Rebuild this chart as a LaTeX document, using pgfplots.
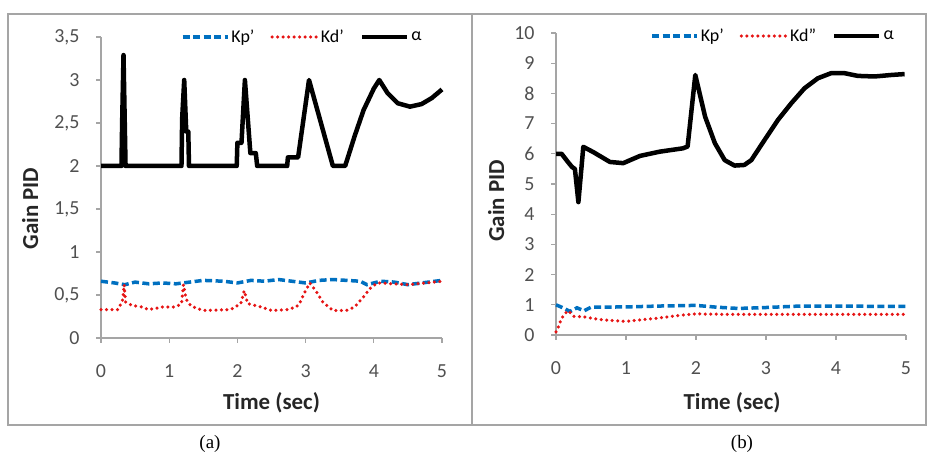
\documentclass[border=0pt]{standalone}
\usepackage{fontspec}
\setmainfont{Carlito}
\newfontfamily\capfont{Liberation Serif}
\usepackage{pgfplots}
\pgfplotsset{compat=1.18}

\definecolor{kpblue}{RGB}{0,112,192}
\definecolor{kdred}{RGB}{230,20,20}
\definecolor{axgray}{RGB}{165,165,165}
\definecolor{txtgray}{RGB}{80,80,80}

\pgfplotsset{
  panel/.style={
    scale only axis,
    xmin=0, xmax=5, ymin=0,
    axis lines=left,
    axis line style={axgray, line width=1.3bp, -},
    tick style={axgray, line width=1.3bp},
    tick align=outside,
    major tick length=5bp,
    xtick={0,...,5},
    ticklabel style={font=\fontsize{20}{21}\selectfont, text=txtgray},
    yticklabel style={xshift=-13bp},
    xticklabel style={yshift=-18bp},
    /pgf/number format/assume math mode=true,
    /pgf/number format/use comma,
    xlabel={Time (sec)}, ylabel={Gain PID},
    label style={font=\bfseries\fontsize{23}{25}\selectfont, text=black!85},
    legend columns=3,
    legend style={draw=none, fill=none, font=\fontsize{18}{20}\selectfont,
      /tikz/every even column/.append style={column sep=14bp}},
    legend image code/.code={\draw[##1] (0bp,0bp) -- (45bp,0bp);},
    clip=false,
  },
  kp/.style={kpblue, line width=3.5bp, dash pattern=on 7bp off 3.5bp},
  kd/.style={kdred, line width=3.5bp, line cap=round, dash pattern=on 0bp off 5.5bp},
  al/.style={black, line width=4.5bp, line join=round},
}

\begin{document}
\begin{tikzpicture}
\useasboundingbox (0,0) rectangle (928bp,454bp);
\draw[axgray, line width=1.5bp] (8bp,29bp) rectangle (926bp,440bp);
\draw[axgray, line width=1.5bp] (472bp,29bp) -- (472bp,440bp);

% panel (a)
\begin{axis}[panel,
  at={(101bp,116bp)}, anchor=south west, width=341bp, height=301bp,
  ymax=3.5, ytick={0,0.5,1,1.5,2,2.5,3,3.5},
  ylabel style={at={(axis description cs:-0.208,0.43)}, anchor=center},
  xlabel style={at={(axis description cs:0.5,-0.216)}, anchor=center},
  legend style={at={(0.955,1.0)}, anchor=east},
]
\addplot[kp] coordinates {
(0,0.66) (0.2,0.64) (0.35,0.62) (0.5,0.65) (0.7,0.63) (0.9,0.64) (1.1,0.63)
(1.3,0.65) (1.5,0.67) (1.8,0.66) (2.0,0.64) (2.2,0.67) (2.4,0.66) (2.6,0.68)
(2.8,0.66) (3.0,0.64) (3.2,0.67) (3.4,0.68) (3.6,0.67) (3.8,0.66) (3.9,0.62)
(4.1,0.66) (4.3,0.65) (4.5,0.62) (4.7,0.64) (5.0,0.67)};
\addlegendentry{Kp'}
\addplot[kd] coordinates {
(0,0.33) (0.25,0.33) (0.32,0.45) (0.34,0.62) (0.36,0.42) (0.45,0.38) (0.6,0.36)
(0.7,0.33) (0.9,0.36) (1.1,0.36) (1.18,0.40) (1.21,0.62) (1.25,0.45) (1.32,0.37)
(1.5,0.32) (1.9,0.33) (2.05,0.40) (2.1,0.55) (2.15,0.40) (2.35,0.36) (2.5,0.32)
(2.75,0.33) (2.9,0.38) (2.98,0.52) (3.06,0.64) (3.15,0.55) (3.25,0.42) (3.4,0.32)
(3.6,0.32) (3.72,0.36) (3.85,0.48) (3.95,0.58) (4.05,0.64) (4.3,0.63) (4.5,0.62)
(4.75,0.64) (5.0,0.66)};
\addlegendentry{Kd'}
\addplot[al] coordinates {
(0,2) (0.30,2) (0.31,2.5) (0.33,3.29) (0.36,2.0)
(1.18,2.0) (1.19,2.55) (1.22,3.0) (1.25,2.4) (1.28,2.4) (1.29,2.0)
(1.99,2.0) (2.00,2.27) (2.06,2.27) (2.11,3.0) (2.19,2.15) (2.27,2.15) (2.29,2.0)
(2.73,2.0) (2.74,2.1) (2.89,2.1) (3.05,3.0) (3.40,2.0) (3.58,2.0)
(3.72,2.35) (3.85,2.65) (4.00,2.9) (4.08,3.0) (4.20,2.85) (4.35,2.73)
(4.53,2.69) (4.70,2.72) (4.85,2.79) (5.00,2.89)};
\addlegendentry{α}
\end{axis}

% panel (b)
\begin{axis}[panel,
  at={(556bp,119bp)}, anchor=south west, width=350bp, height=302bp,
  ymax=10, ytick={0,...,10},
  ylabel style={at={(axis description cs:-0.171,0.444)}, anchor=center},
  xlabel style={at={(axis description cs:0.503,-0.225)}, anchor=center},
  legend style={at={(0.98,0.99)}, anchor=east},
]
\addplot[kp] coordinates {
(0,1.0) (0.1,0.9) (0.2,0.78) (0.3,0.9) (0.4,0.8) (0.5,0.92) (1.0,0.93)
(1.5,0.96) (2.0,0.98) (2.3,0.92) (2.6,0.88) (2.9,0.9) (3.2,0.93) (3.5,0.96)
(4.0,0.96) (4.5,0.95) (5.0,0.95)};
\addlegendentry{Kp'}
\addplot[kd] coordinates {
(0,0.1) (0.04,0.3) (0.07,0.5) (0.12,0.7) (0.18,0.8) (0.25,0.62) (0.4,0.6)
(0.6,0.52) (0.8,0.48) (1.0,0.45) (1.2,0.5) (1.5,0.57) (1.8,0.66) (2.0,0.7)
(2.5,0.68) (3.0,0.68) (3.5,0.68) (4.0,0.68) (4.5,0.68) (5.0,0.68)};
\addlegendentry{Kd''}
\addplot[al] coordinates {
(0,6.0) (0.08,6.0) (0.17,5.73) (0.23,5.56) (0.27,5.5) (0.32,4.4) (0.39,6.23)
(0.53,6.06) (0.77,5.73) (0.96,5.69) (1.2,5.93) (1.48,6.07) (1.81,6.18) (1.88,6.24)
(1.99,8.61) (2.13,7.23) (2.27,6.35) (2.41,5.79) (2.55,5.61) (2.69,5.63) (2.79,5.79)
(2.98,6.46) (3.17,7.12) (3.36,7.67) (3.55,8.17) (3.74,8.5) (3.93,8.67) (4.12,8.67)
(4.31,8.58) (4.55,8.56) (4.79,8.61) (4.98,8.64)};
\addlegendentry{α}
\end{axis}

\node[font=\capfont\fontsize{19}{20}\selectfont] at (210bp,10bp) {(a)};
\node[font=\capfont\fontsize{19}{20}\selectfont] at (742bp,10bp) {(b)};
\end{tikzpicture}
\end{document}
